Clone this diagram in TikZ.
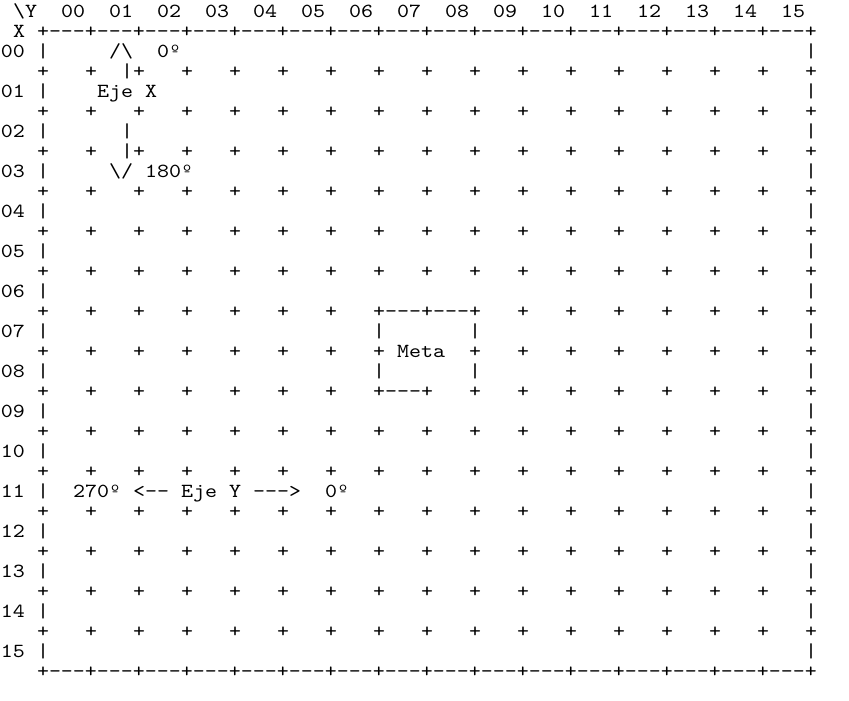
\documentclass[tikz,border=0pt]{standalone}
\usepackage{fontspec}
\newfontfamily\gridfont[FakeStretch=1.142857]{lmmono10-regular.otf}
\tikzset{ch/.style={anchor=base west, inner sep=0pt, outer sep=0pt,
  font=\gridfont\fontsize{20pt}{20pt}\selectfont, text=black}}
\newcommand\at[3]{\node[ch] (n-#1-#2) at ({1+12*#2},{17.6+20*#1}) {#3};}
\begin{document}
\begin{tikzpicture}[x=1pt,y=-1pt]
\useasboundingbox[fill=white] (0,0) rectangle (849,701);
% header
\at{0}{1}{\textbackslash Y}
\foreach \k in {0,...,15}{\pgfmathtruncatemacro\c{5+4*\k}\at{0}{\c}{\ifnum\k<10 0\fi\k}}
% top and bottom borders
\at{1}{1}{X}
\at{1}{3}{+---+---+---+---+---+---+---+---+---+---+---+---+---+---+---+---+}
\at{33}{3}{+---+---+---+---+---+---+---+---+---+---+---+---+---+---+---+---+}
% row lines
\foreach \r in {0,...,15}{\pgfmathtruncatemacro\l{2+2*\r}
  \at{\l}{0}{\ifnum\r<10 0\fi\r}\at{\l}{3}{|}\at{\l}{67}{|}}
% plus lines
\foreach \l in {3,5,...,31}{\foreach \k in {0,...,16}{\pgfmathtruncatemacro\c{3+4*\k}%
  \ifnum\l=17 \ifnum\c=35 \else\at{\l}{\c}{+}\fi\else\at{\l}{\c}{+}\fi}}
% axis X
\at{2}{9}{/\textbackslash}
\at{2}{13}{0º}
\at{3}{10}{|}
\at{4}{8}{Eje}
\at{4}{12}{X}
\at{6}{10}{|}
\at{7}{10}{|}
\at{8}{9}{\textbackslash/}
\at{8}{12}{180º}
% Meta box
\at{15}{32}{---}\at{15}{36}{---}
\at{16}{31}{|}\at{16}{39}{|}
\at{17}{33}{Meta}
\at{18}{31}{|}\at{18}{39}{|}
\at{19}{32}{---}
% axis Y
\at{24}{6}{270º}
\at{24}{11}{<--}
\at{24}{15}{Eje}
\at{24}{19}{Y}
\at{24}{21}{--->}
\at{24}{27}{0º}
\end{tikzpicture}
\end{document}
